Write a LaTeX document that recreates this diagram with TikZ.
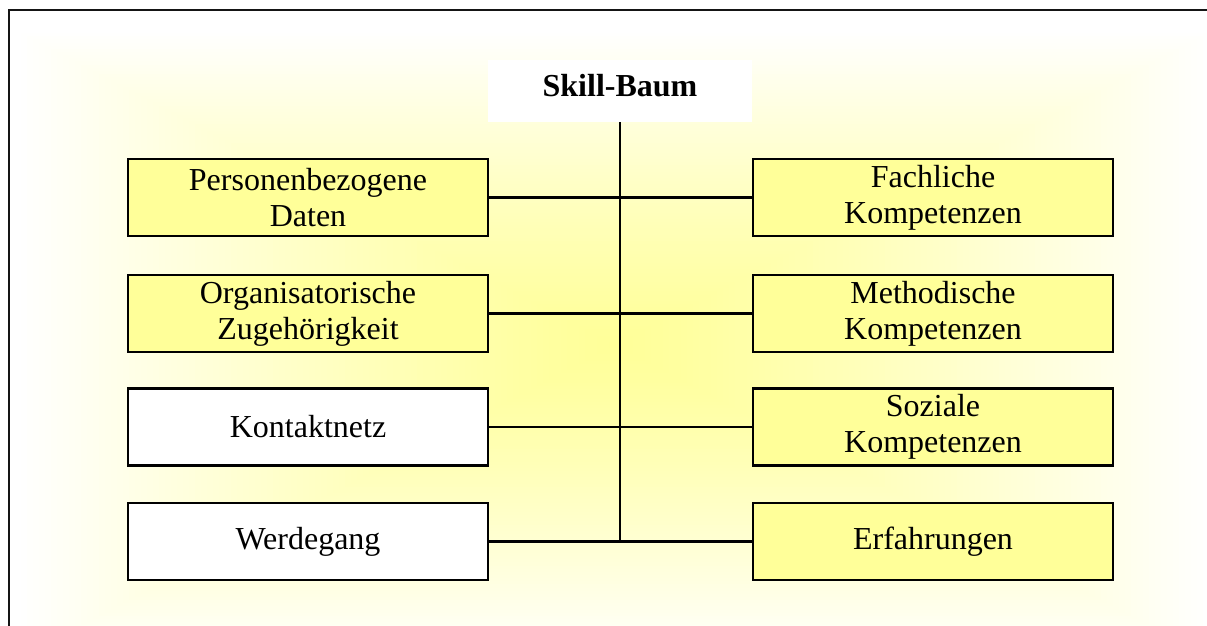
\documentclass[tikz,border=0pt]{standalone}
\usepackage{fontspec}
\setmainfont{Liberation Serif}
\definecolor{boxyellow}{HTML}{FFFF99}
\definecolor{glowyellow}{HTML}{FFFF99}
\definecolor{framegray}{HTML}{151515}
\begin{document}
\begin{tikzpicture}[x=1pt,y=-1pt,
  treebox/.style={draw=black, line width=2.2pt, minimum width=360pt,
    minimum height=77pt, inner sep=0pt, align=center,
    font=\fontsize{32}{36}\selectfont},
  yellowbox/.style={treebox, fill=boxyellow},
  whitebox/.style={treebox, fill=white},
  branch/.style={draw=black, line width=2.2pt}]
\useasboundingbox (0,0) rectangle (1207,626);
\fill[white] (0,0) rectangle (1207,626);

% soft rectangular glow behind the tree
\begin{scope}
  \clip (9,11) rectangle (1207,626);
  \foreach \i in {0,...,99}{
    \pgfmathsetmacro{\t}{1-\i/100}
    \pgfmathsetmacro{\p}{100*(1-\t^1.25)}
    \fill[glowyellow!\p!white] (615-600*\t,345-315*\t) rectangle (615+600*\t,345+315*\t);
  }
\end{scope}

% frame lines
\draw[framegray, line width=2pt] (8.5,626) -- (8.5,10.5) -- (1207,10.5);

% title
\node[fill=white, minimum width=264pt, minimum height=62pt, inner sep=0pt,
  text depth=12pt, font=\bfseries\fontsize{32}{36}\selectfont] (title) at (620,91) {Skill-Baum};

% left column
\node[yellowbox] (pers) at (308,197.5) {Personenbezogene\\Daten};
\node[yellowbox] (org)  at (308,313.5) {Organisatorische\\Zugehörigkeit};
\node[whitebox]  (kont) at (308,427)   {Kontaktnetz};
\node[whitebox]  (werd) at (308,541.5) {Werdegang};

% right column
\node[yellowbox] (fach) at (933,197.5) {Fachliche\\Kompetenzen};
\node[yellowbox] (meth) at (933,313.5) {Methodische\\Kompetenzen};
\node[yellowbox] (soz)  at (933,427)   {Soziale\\Kompetenzen};
\node[yellowbox] (erf)  at (933,541.5) {Erfahrungen};

% trunk and branches
\draw[branch] (title.south) -- (title.south |- werd.east);
\draw[branch] (pers.east) -- (fach.west);
\draw[branch] (org.east)  -- (meth.west);
\draw[branch] (kont.east) -- (soz.west);
\draw[branch] (werd.east) -- (erf.west);
\end{tikzpicture}
\end{document}
